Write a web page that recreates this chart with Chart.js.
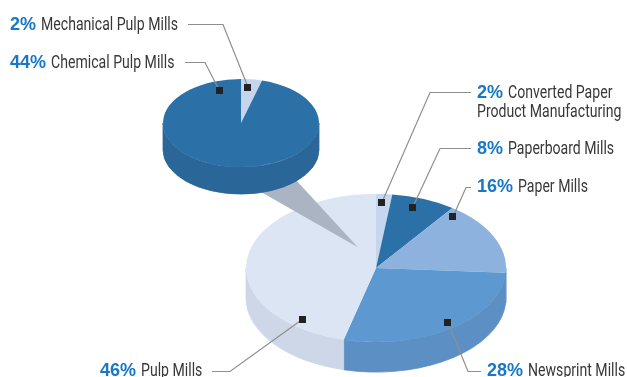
<!DOCTYPE html>
<html>
<head>
<meta charset="utf-8">
<script src="https://cdn.jsdelivr.net/npm/chart.js@4/dist/chart.umd.min.js"></script>
<style>
  html, body { margin: 0; padding: 0; background: #fff; overflow: hidden; }
  #wrap { position: relative; width: 627px; height: 377px; }
  #wrap canvas { position: absolute; left: 0; top: 0; }
</style>
</head>
<body>
<div id="wrap">
  <canvas id="industry" width="627" height="377"></canvas>
  <canvas id="pulp" width="627" height="377"></canvas>
</div>
<script>
// Share of the sector by industry segment (percent)
const industryNames = [['Converted Paper', 'Product Manufacturing'], ['Paperboard Mills'], ['Paper Mills'], ['Newsprint Mills'], ['Pulp Mills']];
const industryShares = [2, 8, 16, 28, 46];

// Breakdown of the pulp mills segment (percent of the whole sector)
const pulpNames = [['Mechanical Pulp Mills'], ['Chemical Pulp Mills']];
const pulpShares = [2, 44];

// Face and wall colours
const industryTop  = ['#c6d6ee', '#2b70a6', '#8db2de', '#5e98d0', '#dce5f3'];
const industrySide = ['#b3c4dd', '#29649a', '#7ea2cc', '#5c90c4', '#cdd7e7'];
const pulpTop  = ['#c5d5ee', '#2b71a7'];
const pulpSide = ['#b3c3dc', '#2b6698'];

// Where each tilted disc sits on the page
const bigDisc   = { cx: 376, cy: 268, r: 130, tilt: 0.57, depth: 30 };
const smallDisc = { cx: 241, cy: 123, r: 78,  tilt: 0.565, depth: 27 };

// Callout layout: marker position inside its slice (along = fraction of the sweep,
// reach = fraction of the radius), leader elbow/end and text origin.
const industryCallouts = [
  { along: 0.41, reach: 0.89, elbow: [430, 92.5],  end: [471, 92.5],  text: [477, 98] },
  { along: 0.41, reach: 0.87, elbow: [440, 148.5], end: [471, 148.5], text: [477, 154] },
  { along: 0.08, reach: 0.91, elbow: [466, 187.5], end: [471, 187.5], text: [477, 192] },
  { along: 0.49, reach: 0.92, elbow: [468, 371.5], end: [481, 371.5], text: [487, 376] },
  { along: 0.15, reach: 0.89, elbow: [230, 371.5], end: [212, 371.5], text: [100, 376] }
];
const pulpCallouts = [
  { along: 0.40, reach: 0.82, elbow: [223, 24.5], end: [188, 24.5], text: [10, 30] },
  { along: 0.94, reach: 0.78, elbow: [205, 62.5], end: [185, 62.5], text: [10, 68] }
];

const PCT_FONT  = "bold 18px 'Liberation Sans', Arial, sans-serif";
const NAME_FONT = "18.5px Roboto, 'Liberation Sans', sans-serif";
// Names are set in a condensed width: 'Mechanical Pulp Mills' spans 137px
const NAME_REF = ['Mechanical Pulp Mills', 137];

// Squash the pie into an ellipse and give it a wall underneath.
function discPlugin(disc, sideColors, underlay) {
  return {
    id: 'disc',
    beforeDatasetsDraw(chart) {
      const ctx = chart.ctx;
      const arcs = chart.getDatasetMeta(0).data;
      if (!arcs.length) return;
      if (underlay) underlay(ctx);
      const a0 = arcs[0];
      ctx.save();
      ctx.translate(disc.cx, disc.cy);
      ctx.scale(1, disc.tilt);
      ctx.translate(-a0.x, -a0.y);
      const dy = disc.depth / disc.tilt;
      arcs.forEach((arc, i) => {
        const s = Math.max(arc.startAngle, 0);
        const e = Math.min(arc.endAngle, Math.PI);
        if (e <= s) return;
        ctx.beginPath();
        ctx.arc(arc.x, arc.y, arc.outerRadius, s, e);
        ctx.arc(arc.x, arc.y + dy, arc.outerRadius, e, s, true);
        ctx.closePath();
        ctx.fillStyle = sideColors[i];
        ctx.strokeStyle = sideColors[i];
        ctx.lineWidth = 1;
        ctx.fill();
        ctx.stroke();
      });
    },
    afterDatasetsDraw(chart) {
      if (chart.getDatasetMeta(0).data.length) chart.ctx.restore();
    }
  };
}

function calloutPlugin(disc, callouts, names, shares) {
  return {
    id: 'callouts',
    afterDraw(chart) {
      const ctx = chart.ctx;
      const arcs = chart.getDatasetMeta(0).data;
      ctx.save();
      ctx.font = NAME_FONT;
      const squeeze = NAME_REF[1] / ctx.measureText(NAME_REF[0]).width;
      callouts.forEach((c, i) => {
        const arc = arcs[i];
        const ang = arc.startAngle + c.along * (arc.endAngle - arc.startAngle);
        const rad = c.reach * arc.outerRadius;
        const mx = disc.cx + rad * Math.cos(ang);
        const my = disc.cy + disc.tilt * rad * Math.sin(ang);

        ctx.strokeStyle = '#8e8e8e';
        ctx.lineWidth = 1.2;
        ctx.beginPath();
        ctx.moveTo(mx, my);
        ctx.lineTo(c.elbow[0], c.elbow[1]);
        ctx.lineTo(c.end[0], c.end[1]);
        ctx.stroke();

        ctx.fillStyle = '#222';
        ctx.fillRect(Math.round(mx - 3.5), Math.round(my - 3.5), 7, 7);

        ctx.textBaseline = 'alphabetic';
        ctx.textAlign = 'left';
        const pct = shares[i] + '%';
        ctx.font = PCT_FONT;
        ctx.fillStyle = '#1877c6';
        ctx.fillText(pct, c.text[0], c.text[1]);
        const w = ctx.measureText(pct).width;
        ctx.font = NAME_FONT;
        ctx.fillStyle = '#383838';
        names[i].forEach((line, j) => {
          const x = j === 0 ? c.text[0] + w + 5 : c.text[0];
          ctx.save();
          ctx.translate(x, c.text[1] + j * 19);
          ctx.scale(squeeze, 1);
          ctx.fillText(line, 0, 0);
          ctx.restore();
        });
      });
      ctx.restore();
    }
  };
}

// Grey wedge linking the pulp slice to its breakdown
function drawConnector(ctx) {
  const tipX = bigDisc.cx - 0.14 * bigDisc.r;
  const tipY = bigDisc.cy - 0.28 * bigDisc.tilt * bigDisc.r;
  const baseY = smallDisc.cy + 1.07 * smallDisc.tilt * smallDisc.r;
  ctx.save();
  ctx.fillStyle = '#aab4c2';
  ctx.beginPath();
  ctx.moveTo(smallDisc.cx - 0.23 * smallDisc.r, baseY);
  ctx.lineTo(smallDisc.cx + 0.59 * smallDisc.r, baseY);
  ctx.lineTo(tipX, tipY);
  ctx.closePath();
  ctx.fill();
  ctx.restore();
}

function pieConfig(values, colors, disc, plugins) {
  return {
    type: 'pie',
    data: {
      labels: values.map((_, i) => i),
      datasets: [{
        data: values,
        backgroundColor: colors,
        borderWidth: 0,
        radius: disc.r,
        clip: false
      }]
    },
    options: {
      responsive: false,
      animation: false,
      events: [],
      plugins: { legend: { display: false }, tooltip: { enabled: false } }
    },
    plugins
  };
}

new Chart(document.getElementById('industry'), pieConfig(
  industryShares, industryTop, bigDisc,
  [discPlugin(bigDisc, industrySide), calloutPlugin(bigDisc, industryCallouts, industryNames, industryShares)]
));

new Chart(document.getElementById('pulp'), pieConfig(
  pulpShares, pulpTop, smallDisc,
  [discPlugin(smallDisc, pulpSide, drawConnector), calloutPlugin(smallDisc, pulpCallouts, pulpNames, pulpShares)]
));
</script>
</body>
</html>
